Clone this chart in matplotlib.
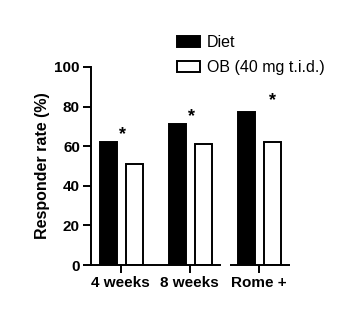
import matplotlib
matplotlib.use('Agg')
import matplotlib.pyplot as plt
import numpy as np

plt.rcParams['font.family'] = ['Liberation Sans', 'DejaVu Sans']

groups = ['4 weeks', '8 weeks', 'Rome +']
diet = [62, 71, 77]
ob = [51, 61, 62]
star_x = [0.02, 0.03, 0.19]
star_y = [66, 75, 83]

fig = plt.figure(figsize=(3.52, 3.31), dpi=100)
ax = fig.add_axes([91 / 352, 0.199, 199 / 352, 0.599])

x = np.arange(len(groups))
w = 0.25
ax.bar(x - 0.18, diet, w, color='black', edgecolor='black', linewidth=1.4, label='Diet')
ax.bar(x + 0.2, ob, w, color='white', edgecolor='black', linewidth=1.4, label='OB (40 mg t.i.d.)')

for i, (sx, sy) in enumerate(zip(star_x, star_y)):
    ax.text(x[i] + sx, sy, '*', ha='center', va='center',
            fontsize=13, fontweight='bold')

ax.set_xlim(-0.43, 2.45)
ax.set_ylim(0, 100)
ax.set_yticks([0, 20, 40, 60, 80, 100])
ax.set_xticks(x)
ax.set_xticklabels(groups)
for lab in ax.get_xticklabels() + ax.get_yticklabels():
    lab.set_fontweight('bold')
    lab.set_fontsize(11)
ax.tick_params(width=1.4, length=5.5, pad=2.5)
ax.set_ylabel('Responder rate (%)', fontsize=11.5, fontweight='bold', labelpad=3)

ax.spines['top'].set_visible(False)
ax.spines['right'].set_visible(False)
for s in ['left', 'bottom']:
    ax.spines[s].set_linewidth(1.4)
# broken x axis: first segment for the two time points, separate one for Rome +
ax.spines['bottom'].set_bounds(-0.43, 1.43)
ax.plot([1.58, 2.45], [0, 0], color='black', lw=1.4, clip_on=False,
        solid_capstyle='butt')

fig.legend(loc='upper left', bbox_to_anchor=(177 / 352, 1 - 35 / 331),
           frameon=False, fontsize=11.5, handlelength=1.42, handleheight=0.68,
           handletextpad=0.45, labelspacing=0.65, borderpad=0, borderaxespad=0)

fig.savefig('out.png', dpi=100)
